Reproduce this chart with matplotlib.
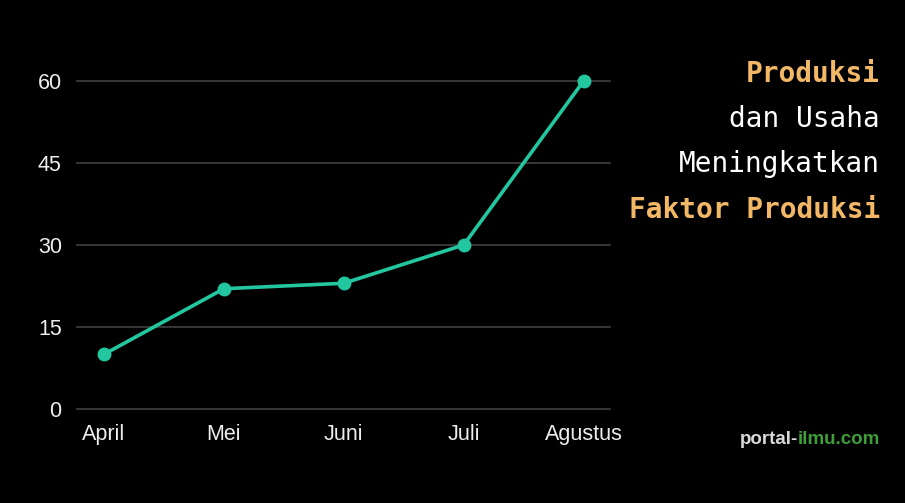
import matplotlib.pyplot as plt

plt.rcParams["font.family"] = ["Liberation Sans", "DejaVu Sans"]

# Data
bulan = ["April", "Mei", "Juni", "Juli", "Agustus"]
nilai = [10, 22, 23, 30, 60]
yticks = [0, 15, 30, 45, 60]

fig = plt.figure(figsize=(9.05, 5.03), dpi=100, facecolor="black")
ax = fig.add_axes([0.0851, 0.1869, 0.5889, 0.6521], facecolor="black")

x = range(len(bulan))
ax.plot(x, nilai, color="#22c7a0", lw=2.6, marker="o", ms=9, clip_on=False, zorder=3)

ax.set_xlim(-0.225, 4.22)
ax.set_ylim(0, 60)
ax.set_yticks(yticks)
ax.set_xticks(list(x))
ax.set_xticklabels(bulan)
ax.yaxis.grid(True, color="#404040", lw=1.2)
for g in ax.yaxis.get_gridlines():
    g.set_clip_on(False)
ax.set_axisbelow(True)
for s in ax.spines.values():
    s.set_visible(False)
ax.tick_params(length=0, colors="#eeeeee", labelsize=15.5)
ax.tick_params(axis="y", pad=11)
ax.tick_params(axis="x", pad=11)

# Judul di kanan
mono = "DejaVu Sans Mono"
oranye = "#f2b865"
fig.text(880 / 905, 1 - 74 / 503, "Produksi", color=oranye, family=mono,
         fontsize=20, fontweight="bold", ha="right", va="center")
fig.text(880 / 905, 1 - 119 / 503, "dan Usaha", color="white", family=mono,
         fontsize=20, ha="right", va="center")
fig.text(880 / 905, 1 - 164 / 503, "Meningkatkan", color="white", family=mono,
         fontsize=20, ha="right", va="center")
fig.text(880 / 905, 1 - 210 / 503, "Faktor Produksi", color=oranye, family=mono,
         fontsize=20, fontweight="bold", ha="right", va="center")

# watermark
fig.text(798 / 905, 1 - 440 / 503, "portal-", color="#d8d8d8", fontsize=13.5,
         fontweight="bold", ha="right", va="center")
fig.text(798 / 905, 1 - 440 / 503, "ilmu.com", color="#3f9e3a", fontsize=13.5,
         fontweight="bold", ha="left", va="center")

fig.savefig("out.png", dpi=100, facecolor="black")
